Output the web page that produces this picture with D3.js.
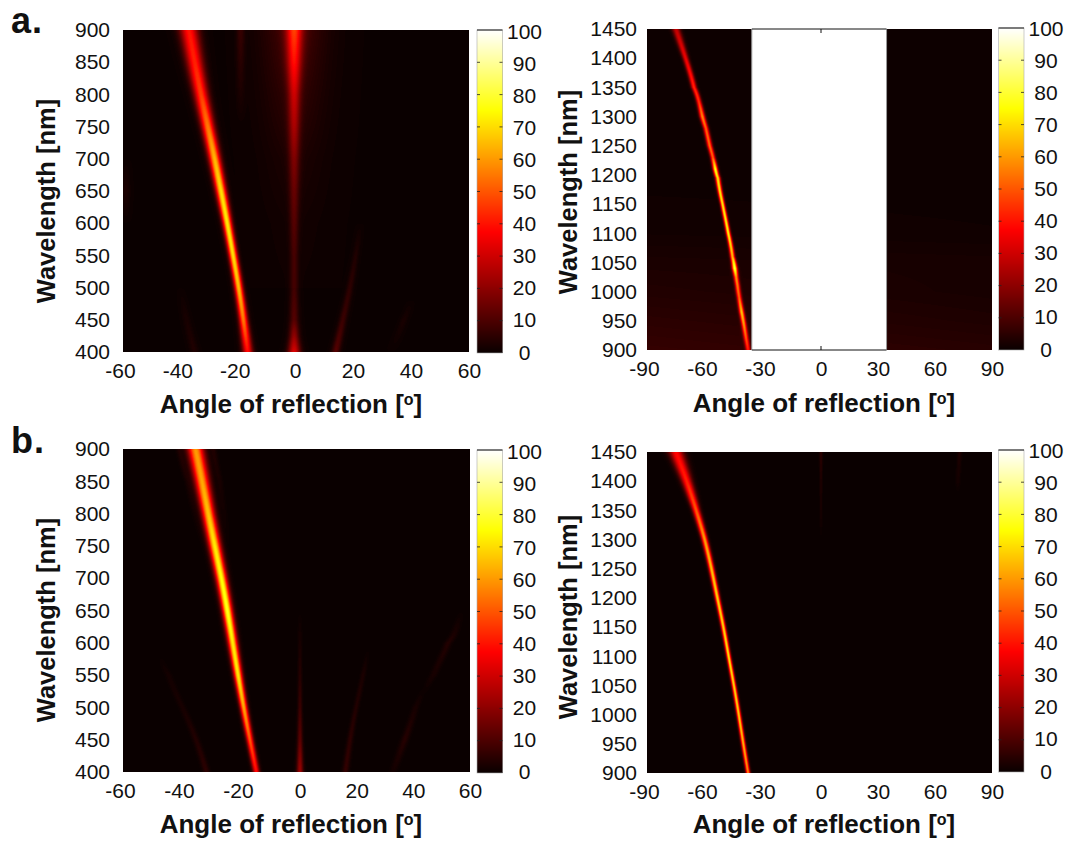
<!DOCTYPE html>
<html>
<head>
<meta charset="utf-8">
<script src="https://cdn.jsdelivr.net/npm/d3@7"></script>
<style>
  html, body { margin: 0; background: #fff; }
  svg { display: block; }
  text { font-family: "Liberation Sans", Arial, sans-serif; fill: #111; }
  .tick-label { font-size: 21px; }
  .axis-title { font-size: 26px; font-weight: bold; }
  .wave-title { font-size: 25.5px; font-weight: bold; }
  .panel-tag { font-size: 36px; font-weight: bold; letter-spacing: 1px; }
  .cells rect { shape-rendering: crispEdges; }
</style>
</head>
<body>
<svg id="chart" width="1070" height="843"></svg>
<script>
  const visTicks = [400, 450, 500, 550, 600, 650, 700, 750, 800, 850, 900];
  const irTicks = [900, 950, 1000, 1050, 1100, 1150, 1200, 1250, 1300, 1350, 1400, 1450];
  const visAngleTicks = [-60, -40, -20, 0, 20, 40, 60];
  const irAngleTicks = [-90, -60, -30, 0, 30, 60, 90];
  const barTicks = [0, 10, 20, 30, 40, 50, 60, 70, 80, 90, 100];

  // ridges, rows are [wavelength, angle, peak %, spread in degrees]
  const aVisMain = [[400, -16.5, 38, 1.25], [450, -18, 55, 1.05], [500, -19.6, 65, 1], [550, -21.6, 70, 1.02], [600, -23.6, 72, 1.1], [650, -25.8, 70, 1.25], [700, -28, 64, 1.4], [750, -30.4, 55, 1.55], [800, -32.8, 46, 1.75], [850, -35, 42, 2], [900, -37, 40, 2.25]];
  const aVisZero = [[400, -0.3, 32, 1.5], [425, -0.3, 20, 1.2], [450, -0.3, 11, 1.1], [500, -0.3, 8, 1], [550, -0.3, 8, 1], [600, -0.3, 10, 1.1], [650, -0.3, 12, 1.2], [700, -0.3, 15, 1.3], [750, -0.3, 20, 1.4], [800, -0.3, 24, 1.5], [850, -0.3, 32, 1.8], [900, -0.3, 38, 2]];
  const aVisHalo = [[500, -0.3, 0.5, 7.5], [600, -0.3, 1, 7.5], [700, -0.3, 2.5, 7.5], [800, -0.3, 5.5, 7.5], [900, -0.3, 9, 7.5]];
  const aVisFaintTop = [[750, -19, 0, 1], [800, -19, 2, 1], [850, -19, 4, 1], [900, -19, 6, 1]];
  const aVisRight = [[400, 14, 11, 1], [450, 16.5, 7, 0.9], [500, 19, 5, 0.8], [550, 21, 3, 0.7], [600, 22.5, 0, 0.7]];
  const aVisLeft = [[400, -35, 3, 1], [450, -38, 2, 0.9], [500, -40, 0, 0.8]];
  const aVisFar = [[400, 33, 0, 1], [450, 38, 2, 0.8], [480, 40, 0, 0.8]];
  const aVisEdge = [[600, -59, 0, 1], [650, -59, 2.5, 1], [700, -59, 0, 1]];

  const aIrMain = [[900, -37.7, 35, 0.9], [920, -38.7, 44, 0.9], [945, -40, 55, 0.9], [965, -41, 62, 0.9], [990, -42.4, 48, 0.9], [1010, -43.2, 52, 0.9], [1025, -43.9, 56, 0.9], [1040, -44.6, 80, 0.95], [1060, -45.6, 62, 0.85], [1100, -47.8, 72, 0.8], [1150, -51, 70, 0.8], [1195, -53.7, 70, 0.9], [1210, -54.6, 76, 0.9], [1230, -55.9, 50, 0.9], [1250, -57.5, 52, 0.95], [1280, -59.6, 50, 0.95], [1300, -61.4, 56, 1], [1325, -63, 44, 0.95], [1350, -65.3, 42, 1], [1400, -70, 34, 1.1], [1450, -75, 28, 1.5]];
  // slow background glow: [wavelength, level at -90, level at +90]
  const aIrGlow = [[900, 6.5, 4.5], [950, 5, 3], [1000, 3.5, 2], [1050, 2.5, 2], [1100, 1.2, 0.8], [1200, 0.5, 0.4], [1450, 0.4, 0.4]];
  const aIrMask = [-35.8, 34.5];

  const bVisMain = [[400, -14.8, 38, 0.8], [450, -17, 50, 0.82], [500, -19.1, 62, 0.87], [550, -21, 72, 0.98], [600, -22.8, 72, 1.1], [650, -24.6, 78, 1.18], [700, -26.6, 75, 1.27], [750, -28.9, 72, 1.38], [800, -31.1, 66, 1.5], [850, -33.2, 62, 1.67], [900, -35.4, 60, 1.85]];
  const bVisZero = [[400, 0, 22, 0.8], [450, 0, 12, 0.65], [500, 0, 7, 0.55], [550, 0, 4, 0.5], [600, 0, 2, 0.5], [650, 0, 0, 0.5]];
  const bVisRight = [[400, 16, 6, 0.8], [450, 17.6, 5, 0.7], [500, 19.7, 3.5, 0.65], [550, 22.4, 2.5, 0.6], [590, 24, 0, 0.6]];
  const bVisFar = [[400, 32.8, 1.5, 0.9], [450, 37, 4, 0.9], [500, 41, 2, 0.8], [530, 43.7, 0, 0.8]];
  const bVisOuter = [[520, 43.7, 0, 0.8], [550, 46.5, 2, 0.9], [600, 53, 3.5, 0.9], [620, 55, 2, 0.9], [650, 57, 0, 0.8]];
  const bVisLeft = [[400, -31.7, 5, 0.8], [450, -35, 3.5, 0.8], [500, -39.8, 2, 0.8], [550, -45, 1.5, 0.8], [580, -47.5, 0, 0.8]];
  const bVisSideA = [[750, -33, 0, 0.7], [850, -38.5, 2, 0.7], [900, -41, 3, 0.7]];
  const bVisSideB = [[750, -24, 0, 0.7], [850, -27.5, 2, 0.7], [900, -29.4, 3, 0.7]];

  const bIrMain = [[900, -37.7, 56, 0.78], [950, -40.2, 63, 0.78], [1000, -42.5, 67, 0.78], [1050, -45, 68, 0.78], [1100, -47.8, 70, 0.78], [1150, -50.4, 68, 0.84], [1200, -53.6, 68, 0.9], [1250, -56.6, 65, 1], [1300, -60, 60, 1.1], [1350, -64.5, 50, 1.35], [1400, -69.3, 42, 1.9], [1450, -75, 38, 2.6]];
  const bIrZero = [[1300, 0, 0, 0.5], [1350, 0, 2, 0.5], [1400, 0, 3, 0.5], [1450, 0, 5, 0.6]];
  const bIrFar = [[1380, 72, 0, 0.8], [1400, 72, 1.5, 0.8], [1450, 73, 3, 0.8]];

  const heat = d3.scaleLinear()
    .domain([0, 37.5, 75, 100])
    .range(["#0a0000", "#ff0000", "#ffff00", "#ffffff"])
    .clamp(true);

  const panels = [
    {
      left: 123, top: 30, right: 469, bottom: 352, zeroX: 295, padY: 13,
      barLeft: 477, barTop: 30, barBottom: 353, barLabelTop: 31, barLabelBottom: 352,
      wave: visTicks, angles: visAngleTicks, base: 0.2,
      ridges: [aVisMain, aVisZero, aVisHalo, aVisFaintTop, aVisRight, aVisLeft, aVisFar, aVisEdge],
      titleX: 291, titleY: 413, waveX: 55, waveY: 201
    },
    {
      left: 647, top: 29, right: 992, bottom: 350, zeroX: 821, padY: 10,
      barLeft: 998.5, barTop: 28, barBottom: 350, barLabelTop: 28, barLabelBottom: 349,
      wave: irTicks, angles: irAngleTicks, base: 0, glow: aIrGlow, mask: aIrMask,
      ridges: [aIrMain],
      titleX: 824, titleY: 412, waveX: 577, waveY: 192
    },
    {
      left: 123, top: 449, right: 470, bottom: 772, zeroX: 300, padY: 13,
      barLeft: 477, barTop: 450, barBottom: 773, barLabelTop: 451, barLabelBottom: 771,
      wave: visTicks, angles: visAngleTicks, base: 0,
      ridges: [bVisMain, bVisZero, bVisRight, bVisFar, bVisOuter, bVisLeft, bVisSideA, bVisSideB],
      titleX: 291, titleY: 833, waveX: 55, waveY: 620
    },
    {
      left: 647, top: 452, right: 992, bottom: 773, zeroX: 821, padY: 10,
      barLeft: 998.5, barTop: 450, barBottom: 772, barLabelTop: 450, barLabelBottom: 771,
      wave: irTicks, angles: irAngleTicks, base: 0,
      ridges: [bIrMain, bIrZero, bIrFar],
      titleX: 824, titleY: 833, waveX: 577, waveY: 617
    }
  ];

  const svg = d3.select("#chart");
  const barWidth = 25.5;

  // each ridge becomes a set of lookups from wavelength to its table columns
  function ridgeLookup(rows) {
    const wl = rows.map((r) => r[0]);
    const col = (i) => d3.scaleLinear().domain(wl).range(rows.map((r) => r[i])).clamp(true);
    // the angle goes through a basis spline so the ridge bends without kinks
    const knot = d3.scaleLinear().domain(wl).range(wl.map((_, i) => i / (wl.length - 1))).clamp(true);
    const bend = d3.interpolateBasis(rows.map((r) => r[1]));
    return { min: wl[0], max: wl[wl.length - 1], angle: (w) => bend(knot(w)), peak: col(2), spread: col(3) };
  }

  function cellRuns(p, x, y, lookups, glow) {
    const runs = [];
    for (let row = p.top; row < p.bottom; row++) {
      const wl = y.invert(row + 0.5);
      const active = lookups
        .filter((r) => wl >= r.min && wl <= r.max)
        .map((r) => ({ a: r.angle(wl), v: r.peak(wl), s: r.spread(wl) }));
      const glowL = glow ? glow.left(wl) : 0;
      const glowR = glow ? glow.right(wl) : 0;
      let current = null;
      for (let col = p.left; col < p.right; col++) {
        const angle = x.invert(col + 0.5);
        const t = (angle - x.domain()[0]) / 180;
        let v = p.base + glowL + (glowR - glowL) * t;
        active.forEach((r) => {
          const d = (angle - r.a) / r.s;
          v += r.v * Math.exp(-0.5 * d * d);
        });
        const q = Math.round(v * 2) / 2;
        if (current && current.value === q) {
          current.end = col + 1;
        } else {
          current = { row, start: col, end: col + 1, value: q };
          runs.push(current);
        }
      }
    }
    return runs;
  }

  function drawPanel(p) {
    const waveExtent = d3.extent(p.wave);
    const half = d3.max(p.angles);
    const x = d3.scaleLinear().domain([-half, 0, half]).range([p.left, p.zeroX, p.right]);
    const y = d3.scaleLinear().domain(waveExtent).range([p.bottom, p.top]);
    const lookups = p.ridges.map(ridgeLookup);
    const glow = p.glow ? {
      left: d3.scaleLinear().domain(p.glow.map((r) => r[0])).range(p.glow.map((r) => r[1])).clamp(true),
      right: d3.scaleLinear().domain(p.glow.map((r) => r[0])).range(p.glow.map((r) => r[2])).clamp(true)
    } : null;

    const g = svg.append("g");
    g.append("g").attr("class", "cells")
      .selectAll("rect")
      .data(cellRuns(p, x, y, lookups, glow))
      .join("rect")
      .attr("x", (d) => d.start)
      .attr("y", (d) => d.row)
      .attr("width", (d) => d.end - d.start)
      .attr("height", 1)
      .attr("fill", (d) => heat(d.value));

    if (p.mask) {
      g.append("rect")
        .attr("x", x(p.mask[0]))
        .attr("y", p.top)
        .attr("width", x(p.mask[1]) - x(p.mask[0]))
        .attr("height", p.bottom - p.top)
        .attr("fill", "#fff");
      p.mask.forEach((a) => {
        g.append("line")
          .attr("x1", x(a)).attr("x2", x(a))
          .attr("y1", p.top).attr("y2", p.bottom)
          .attr("stroke", "#999").attr("stroke-width", 1);
      });
      g.append("line")
        .attr("x1", x(p.mask[0])).attr("x2", x(p.mask[1]))
        .attr("y1", p.top).attr("y2", p.top)
        .attr("stroke", "#111");
      g.append("line")
        .attr("x1", x(p.mask[0])).attr("x2", x(p.mask[1]))
        .attr("y1", p.bottom).attr("y2", p.bottom)
        .attr("stroke", "#111");
      g.append("line")
        .attr("x1", x(0)).attr("x2", x(0))
        .attr("y1", p.top).attr("y2", p.top + 4)
        .attr("stroke", "#111");
      g.append("line")
        .attr("x1", x(0)).attr("x2", x(0))
        .attr("y1", p.bottom - 4).attr("y2", p.bottom)
        .attr("stroke", "#111");
    }

    const plain = (d) => String(d);
    const xAxis = g.append("g")
      .attr("transform", `translate(0,${p.bottom})`)
      .call(d3.axisBottom(x).tickValues(p.angles).tickFormat(plain).tickSize(0).tickPadding(11));
    const yAxis = g.append("g")
      .attr("transform", `translate(${p.left},0)`)
      .call(d3.axisLeft(y).tickValues(p.wave).tickFormat(plain).tickSize(0).tickPadding(p.padY));
    [xAxis, yAxis].forEach((axis) => {
      axis.select(".domain").remove();
      axis.selectAll("text").attr("class", "tick-label").attr("fill", null);
      axis.attr("font-size", null).attr("font-family", null);
    });
    // the hyphen pulls negative labels to the left in the reference
    xAxis.selectAll("text").filter((d) => d < 0).attr("dx", -3);

    const title = g.append("text").attr("class", "axis-title")
      .attr("x", p.titleX).attr("y", p.titleY).attr("text-anchor", "middle");
    title.append("tspan").text("Angle of reflection [");
    title.append("tspan").attr("dy", -8).style("font-size", "16px").text("o");
    title.append("tspan").attr("dy", 8).text("]");

    g.append("text").attr("class", "wave-title")
      .attr("text-anchor", "middle")
      .attr("transform", `translate(${p.waveX},${p.waveY}) rotate(-90)`)
      .text("Wavelength [nm]");

    drawBar(g, p);
  }

  function drawBar(g, p) {
    const barRight = p.barLeft + barWidth;
    const c = d3.scaleLinear().domain([0, 100]).range([p.barBottom, p.barTop]);
    const labels = d3.scaleLinear().domain([0, 100]).range([p.barLabelBottom, p.barLabelTop]);

    g.append("g").attr("class", "cells")
      .selectAll("rect")
      .data(d3.range(p.barTop, p.barBottom))
      .join("rect")
      .attr("x", p.barLeft)
      .attr("y", (d) => d)
      .attr("width", barWidth)
      .attr("height", 1)
      .attr("fill", (d) => heat(c.invert(d + 0.5)));

    g.append("rect")
      .attr("x", p.barLeft).attr("y", p.barTop)
      .attr("width", barWidth).attr("height", p.barBottom - p.barTop)
      .attr("fill", "none").attr("stroke", "#aaa").attr("stroke-width", 0.6);
    g.append("line")
      .attr("x1", p.barLeft).attr("x2", barRight)
      .attr("y1", p.barTop).attr("y2", p.barTop)
      .attr("stroke", "#111");

    g.selectAll(".bar-tick")
      .data(barTicks.slice(1, -1))
      .join("path")
      .attr("class", "bar-tick")
      .attr("d", (d) => `M${p.barLeft},${c(d)}h3M${barRight - 3},${c(d)}h3`)
      .attr("stroke", "#222").attr("stroke-width", 0.8);

    g.selectAll(".bar-label")
      .data(barTicks)
      .join("text")
      .attr("class", "bar-label tick-label")
      .attr("x", barRight + 22)
      .attr("y", labels)
      .attr("dy", "0.36em")
      .attr("text-anchor", "middle")
      .text((d) => d);
  }

  panels.forEach(drawPanel);

  svg.append("text").attr("class", "panel-tag").attr("x", 11).attr("y", 33).text("a.");
  svg.append("text").attr("class", "panel-tag").attr("x", 11).attr("y", 453).text("b.");
</script>
</body>
</html>
